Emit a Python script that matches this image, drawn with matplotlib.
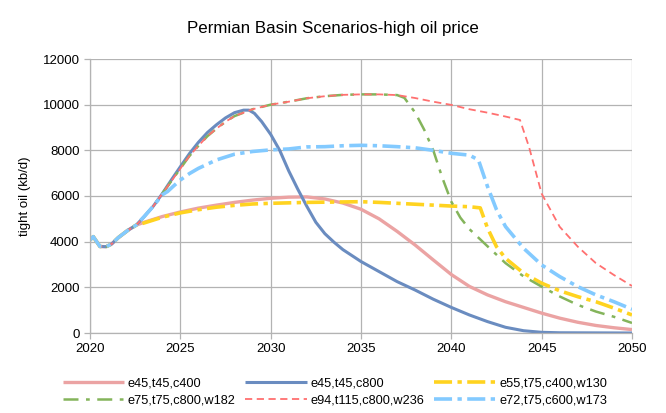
import matplotlib
matplotlib.use("Agg")
import matplotlib.pyplot as plt

plt.rcParams['font.family'] = ['Liberation Sans', 'DejaVu Sans']

title = "Permian Basin Scenarios-high oil price"
ylabel = "tight oil (kb/d)"
xticks = [2020, 2025, 2030, 2035, 2040, 2045, 2050]
yticks = [0, 2000, 4000, 6000, 8000, 10000, 12000]

# shared early history
early_years = [2020, 2020.18, 2020.55, 2020.9, 2021.2, 2021.57, 2022.1, 2022.55]
early_vals = [4070, 4220, 3790, 3780, 3900, 4180, 4500, 4720]

# e45,t45,c400
pink_years = [2023, 2024, 2025, 2026, 2027, 2028, 2029, 2030, 2031, 2032, 2033, 2034, 2035,
              2036, 2037, 2038, 2039, 2040, 2041, 2042, 2043, 2044, 2045, 2046, 2047, 2048, 2049, 2050]
pink_vals = [4850, 5100, 5300, 5470, 5600, 5720, 5820, 5900, 5950, 5960, 5870, 5690, 5420,
             5000, 4450, 3850, 3200, 2560, 2040, 1670, 1370, 1120, 870, 650, 470, 330, 230, 150]

# e45,t45,c800
blue_years = [2023, 2023.5, 2024, 2024.5, 2025, 2025.5, 2026, 2026.5, 2027, 2027.5, 2028, 2028.5,
              2028.8, 2029.1, 2029.5, 2030, 2030.5, 2031, 2031.5, 2032, 2032.5, 2033, 2033.5, 2034, 2035,
              2036, 2037, 2038, 2039, 2040, 2041, 2042, 2043, 2044, 2045, 2046, 2050]
blue_vals = [5100, 5550, 6100, 6700, 7280, 7850, 8350, 8780, 9120, 9420, 9650, 9760,
             9760, 9620, 9260, 8700, 8000, 7100, 6300, 5550, 4850, 4350, 3980, 3650, 3130,
             2690, 2250, 1880, 1480, 1120, 790, 500, 250, 100, 30, 10, 0]

# e55,t75,c400,w130
yellow_years = [2023, 2024, 2025, 2026, 2027, 2028, 2029, 2030, 2031, 2032, 2033, 2034, 2035,
                2036, 2037, 2038, 2039, 2040, 2041, 2041.6, 2042, 2042.5, 2043, 2044, 2045,
                2046, 2047, 2048, 2049, 2050]
yellow_vals = [4820, 5070, 5260, 5400, 5510, 5590, 5650, 5680, 5700, 5720, 5730, 5740, 5750,
               5720, 5680, 5640, 5600, 5560, 5530, 5480, 4600, 3780, 3270, 2620, 2180,
               1850, 1590, 1370, 1090, 790]

# e75,t75,c800,w182
green_years = [2023, 2023.5, 2024, 2024.5, 2025, 2025.5, 2026, 2026.5, 2027, 2027.5, 2028, 2029,
               2030, 2031, 2032, 2033, 2034, 2035, 2036, 2037, 2037.4, 2038, 2038.5, 2039,
               2039.5, 2040, 2040.5, 2041, 2042, 2043, 2044, 2045, 2046, 2047, 2048, 2049, 2050]
green_vals = [5100, 5550, 6100, 6650, 7200, 7750, 8200, 8620, 8950, 9250, 9500, 9800,
              10000, 10130, 10280, 10370, 10430, 10450, 10450, 10420, 10300, 9650, 8900, 8000,
              6800, 5750, 5050, 4550, 3800, 3060, 2480, 2030, 1600, 1230, 940, 710, 440]

# e94,t115,c800,w236
red_years = [2023, 2023.5, 2024, 2024.5, 2025, 2025.5, 2026, 2026.5, 2027, 2027.5, 2028, 2029,
             2030, 2031, 2032, 2033, 2034, 2035, 2036, 2037, 2038, 2039, 2040, 2041, 2042,
             2043, 2043.8, 2044.3, 2045, 2046, 2047, 2048, 2049, 2050]
red_vals = [5100, 5550, 6100, 6650, 7200, 7750, 8200, 8620, 8950, 9250, 9500, 9800,
            10000, 10130, 10280, 10370, 10430, 10450, 10450, 10420, 10290, 10130, 9990, 9800,
            9650, 9480, 9330, 8150, 6100, 4650, 3780, 3060, 2540, 2060]

# e72,t75,c600,w173
lblue_years = [2023, 2023.5, 2024, 2024.3, 2024.6, 2025, 2025.5, 2026, 2027, 2028, 2029, 2030,
               2031, 2032, 2033, 2034, 2035, 2036, 2037, 2038, 2039, 2040, 2041, 2041.5, 2042,
               2042.5, 2043, 2044, 2045, 2046, 2047, 2048, 2049, 2050]
lblue_vals = [5100, 5550, 6050, 6200, 6420, 6700, 6980, 7210, 7580, 7830, 7950, 8020,
              8060, 8150, 8160, 8200, 8220, 8200, 8160, 8110, 8000, 7870, 7790, 7580, 6420,
              5400, 4660, 3710, 2980, 2470, 2030, 1670, 1370, 1040]

series = [
    ("e45,t45,c400", pink_years, pink_vals, dict(color="#eba3a3", lw=2.4, ls="-")),
    ("e45,t45,c800", blue_years, blue_vals, dict(color="#6a8cc0", lw=2.2, ls="-")),
    ("e55,t75,c400,w130", yellow_years, yellow_vals, dict(color="#ffd320", lw=2.6, ls=(0, (5, 1.5, 1.2, 1.5)))),
    ("e75,t75,c800,w182", green_years, green_vals, dict(color="#84b45b", lw=1.8, ls=(0, (6, 3, 1.5, 3)))),
    ("e94,t115,c800,w236", red_years, red_vals, dict(color="#ff7070", lw=1.3, ls=(0, (4, 2.5)))),
    ("e72,t75,c600,w173", lblue_years, lblue_vals, dict(color="#83caff", lw=2.6, ls=(0, (5, 1.5, 1.2, 1.5)))),
]

fig = plt.figure(figsize=(6.66, 4.13), dpi=100)
ax = fig.add_axes([90 / 666, 80 / 413, 542 / 666, 274 / 413])

handles = []
for name, yrs, vals, st in series:
    x = early_years + yrs
    y = early_vals + vals
    h, = ax.plot(x, y, label=name, solid_capstyle="butt", dash_capstyle="butt", **st)
    handles.append(h)

ax.set_xlim(2020, 2050)
ax.set_ylim(0, 12000)
ax.set_xticks(xticks)
ax.set_yticks(yticks)
ax.set_xticklabels([str(t) for t in xticks])
ax.set_yticklabels([str(t) for t in yticks])
ax.grid(True, color="#b3b3b3", lw=0.9)
ax.set_axisbelow(True)
for s in ["top", "right"]:
    ax.spines[s].set_visible(False)
for s in ["left", "bottom"]:
    ax.spines[s].set_color("#b3b3b3")
    ax.spines[s].set_linewidth(0.9)
ax.tick_params(axis="both", colors="#b3b3b3", labelcolor="#000000", labelsize=9.5, length=4, width=0.9)
ax.set_ylabel(ylabel, fontsize=9.5, labelpad=8)

fig.text(0.5, 1 - 28 / 413, title, ha="center", va="center", fontsize=12.2)

# row-wise ordering for a 3-column, 2-row legend
order = [0, 3, 1, 4, 2, 5]
fig.legend(handles=[handles[i] for i in order], loc="center", bbox_to_anchor=(0.503, 1 - 392 / 413), ncol=3,
           frameon=False, fontsize=9.2, handlelength=4.8, handletextpad=0.32, columnspacing=0.75,
           labelspacing=0.45, borderpad=0)

fig.savefig("out.png", dpi=100)
